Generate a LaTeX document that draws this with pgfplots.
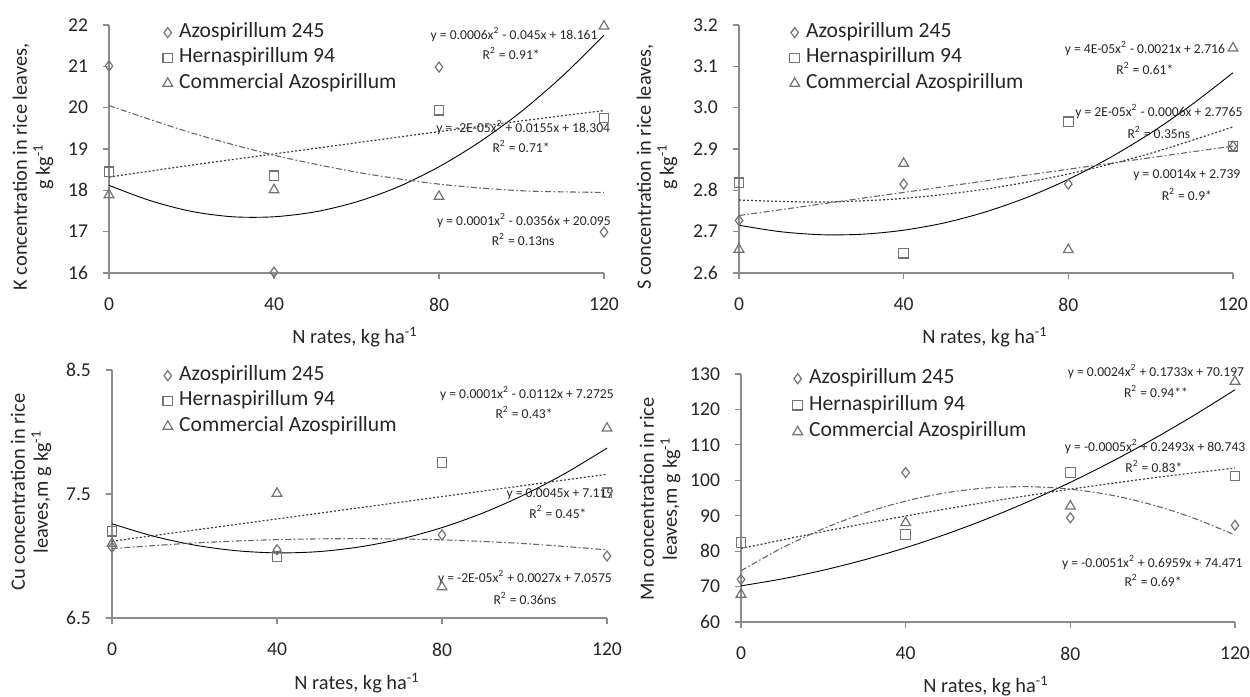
\documentclass[border=0pt]{standalone}
\usepackage{fontspec}
\setmainfont{Carlito}
\usepackage{pgfplots}
\pgfplotsset{compat=1.18}
\tikzset{eq/.style={font=\fontsize{6.8}{8}\selectfont, text=black!85, inner sep=0pt}}
\pgfplotsset{
  panel/.style={
    scale only axis, width=247.5pt, height=124pt,
    anchor=south west,
    xmin=0, xmax=120, xtick={0,40,80,120},
    axis x line=bottom, axis y line=left,
    axis line style={-, black!45, line width=0.6pt},
    tick style={black!45, line width=0.6pt},
    tick align=outside, major tick length=3pt,
    enlargelimits=false, clip=false,
    /pgf/number format/assume math mode=true,
    ticklabel style={font=\fontsize{9.8}{11}\selectfont, text=black!85},
    xticklabel style={yshift=-6pt},
    yticklabel style={xshift=-4pt},
    legend style={draw=none, fill=none, font=\fontsize{10.8}{12}\selectfont, text=black!85,
      anchor=north west, row sep=0pt, inner sep=0pt,
      nodes={inner sep=1.5pt, text height=7.3pt, text depth=2.4pt}},
    legend cell align=left,
    legend image code/.code={\draw[##1] plot coordinates {(0pt,0pt)}; \path (-2.5pt,0pt) (4pt,0pt);},
  },
  dmark/.style={only marks, mark=diamond, mark size=2.5pt, mark options={draw=black!55, fill=white, line width=0.6pt, solid}},
  smark/.style={only marks, mark=square, mark size=2.4pt, mark options={draw=black!55, fill=white, line width=0.6pt, solid}},
  tmark/.style={only marks, mark=triangle, mark size=2.8pt, mark options={draw=black!55, fill=white, line width=0.6pt, solid}},
  fitA/.style={black, line width=0.45pt, smooth, no marks, forget plot},
  fitB/.style={black!75, line width=0.6pt, dash pattern=on 1pt off 1pt, smooth, no marks, forget plot},
  fitC/.style={black!60, line width=0.55pt, dash pattern=on 3pt off 1.2pt on 0.8pt off 1.2pt, smooth, no marks, forget plot},
}
\newcommand{\lab}{\fontsize{10.2}{11.5}\selectfont}
\begin{document}
\begin{tikzpicture}
\path[use as bounding box] (0,0) rectangle (625pt,348.5pt);

% ---------------- K ----------------
\begin{axis}[panel, at={(54.5pt,212pt)}, ymin=16, ymax=22, ytick={16,17,...,22},
  legend style={at={(0.107,1.022)}}]
\addplot[fitA] coordinates {(0,18.12)(10,17.75)(20,17.49)(30,17.36)(40,17.36)(50,17.48)(60,17.72)(70,18.08)(80,18.57)(90,19.18)(100,19.91)(110,20.77)(120,21.75)};
\addplot[fitB] coordinates {(0,18.32)(20,18.61)(40,18.88)(60,19.15)(80,19.42)(100,19.68)(120,19.93)};
\addplot[fitC] coordinates {(0,20.05)(20,19.39)(40,18.85)(60,18.44)(80,18.15)(100,17.99)(120,17.95)};
\addplot[dmark] coordinates {(0,21.01)(40,16.02)(80,20.98)(120,16.99)};
\addplot[smark] coordinates {(0,18.45)(40,18.35)(80,19.94)(120,19.75)};
\addplot[tmark] coordinates {(0,17.89)(40,18.01)(80,17.85)(120,21.97)};
\legend{Azospirillum 245, Hernaspirillum 94, Commercial Azospirillum}
\node[eq] at (axis cs:98.2,21.76) {y = 0.0006x\textsuperscript{2} - 0.045x + 18.161};
\node[eq] at (axis cs:97.5,21.32) {R\textsuperscript{2} = 0.91*};
\node[eq] at (axis cs:100.4,19.51) {y = -2E-05x\textsuperscript{2} + 0.0155x + 18.304};
\node[eq] at (axis cs:99.9,19.05) {R\textsuperscript{2} = 0.71*};
\node[eq] at (axis cs:100.6,17.28) {y = 0.0001x\textsuperscript{2} - 0.0356x + 20.095};
\node[eq] at (axis cs:100.4,16.80) {R\textsuperscript{2} = 0.13ns};
\end{axis}

% ---------------- S ----------------
\begin{axis}[panel, at={(369.5pt,212pt)}, width=247pt, ymin=2.6, ymax=3.2, ytick={2.6,2.7,...,3.2},
  yticklabel style={/pgf/number format/.cd, fixed, fixed zerofill, precision=1},
  legend style={at={(0.101,1.022)}}]
\addplot[fitA] coordinates {(0,2.7155)(10,2.700)(20,2.6926)(30,2.6938)(40,2.7035)(50,2.7215)(60,2.7481)(70,2.7831)(80,2.8265)(90,2.8784)(100,2.9386)(110,3.0074)(120,3.0845)};
\addplot[fitB] coordinates {(0,2.7765)(20,2.7716)(40,2.7805)(60,2.8031)(80,2.8395)(100,2.8896)(120,2.9535)};
\addplot[fitC] coordinates {(0,2.739)(120,2.907)};
\addplot[dmark] coordinates {(0,2.727)(40,2.815)(80,2.815)(120,2.907)};
\addplot[smark] coordinates {(0,2.818)(40,2.648)(80,2.966)(120,2.907)};
\addplot[tmark] coordinates {(0,2.657)(40,2.865)(80,2.656)(120,3.144)};
\legend{Azospirillum 245, Hernaspirillum 94, Commercial Azospirillum}
\node[eq] at (axis cs:98.6,3.144) {y = 4E-05x\textsuperscript{2} - 0.0021x + 2.716};
\node[eq] at (axis cs:98.6,3.096) {R\textsuperscript{2} = 0.61*};
\node[eq] at (axis cs:102,2.990) {y = 2E-05x\textsuperscript{2} - 0.0006x + 2.7765};
\node[eq] at (axis cs:102,2.941) {R\textsuperscript{2} = 0.35ns};
\node[eq] at (axis cs:108.8,2.837) {y = 0.0014x + 2.739};
\node[eq] at (axis cs:108.8,2.789) {R\textsuperscript{2} = 0.9*};
\end{axis}

% ---------------- Cu ----------------
\begin{axis}[panel, at={(56pt,39.5pt)}, ymin=6.5, ymax=8.5, ytick={6.5,7.5,8.5},
  legend style={at={(0.101,1.03)}}]
\addplot[fitA] coordinates {(0,7.26)(10,7.16)(20,7.088)(30,7.043)(40,7.025)(50,7.035)(60,7.073)(70,7.137)(80,7.229)(90,7.348)(100,7.495)(110,7.669)(120,7.87)};
\addplot[fitB] coordinates {(0,7.119)(120,7.659)};
\addplot[fitC] coordinates {(0,7.06)(20,7.105)(40,7.132)(60,7.14)(80,7.13)(100,7.1)(120,7.05)};
\addplot[dmark] coordinates {(0,7.07)(40,7.05)(80,7.17)(120,7.0)};
\addplot[smark] coordinates {(0,7.2)(40,6.995)(80,7.755)(120,7.51)};
\addplot[tmark] coordinates {(0,7.1)(40,7.505)(80,6.75)(120,8.03)};
\legend{Azospirillum 245, Hernaspirillum 94, Commercial Azospirillum}
\node[eq] at (axis cs:100.6,8.314) {y = 0.0001x\textsuperscript{2} - 0.0112x + 7.2725};
\node[eq] at (axis cs:99.9,8.161) {R\textsuperscript{2} = 0.43*};
\node[eq] at (axis cs:108.6,7.500) {y = 0.0045x + 7.119};
\node[eq] at (axis cs:108.1,7.355) {R\textsuperscript{2} = 0.45*};
\node[eq] at (axis cs:100.1,6.823) {y = -2E-05x\textsuperscript{2} + 0.0027x + 7.0575};
\node[eq] at (axis cs:100.1,6.661) {R\textsuperscript{2} = 0.36ns};
\end{axis}

% ---------------- Mn ----------------
\begin{axis}[panel, at={(370.5pt,37.5pt)}, width=247pt, ymin=60, ymax=130, ytick={60,70,...,130},
  legend style={at={(0.103,1.034)}, row sep=0.6pt}]
\addplot[fitA] coordinates {(0,70.197)(10,72.17)(20,74.623)(30,77.556)(40,80.969)(50,84.862)(60,89.235)(70,94.088)(80,99.421)(90,105.234)(100,111.527)(110,118.3)(120,125.553)};
\addplot[fitB] coordinates {(0,80.743)(20,85.529)(40,89.915)(60,93.901)(80,97.487)(100,100.673)(120,103.459)};
\addplot[fitC] coordinates {(0,74.471)(10,80.92)(20,86.349)(30,90.758)(40,94.147)(50,96.516)(60,97.865)(70,98.194)(80,97.503)(90,95.792)(100,93.061)(110,89.31)(120,84.539)};
\addplot[dmark] coordinates {(0,72)(40,102.2)(80,89.4)(120,87.3)};
\addplot[smark] coordinates {(0,82.4)(40,84.7)(80,102.2)(120,101.2)};
\addplot[tmark] coordinates {(0,67.8)(40,88)(80,92.7)(120,127.9)};
\legend{Azospirillum 245, Hernaspirillum 94, Commercial Azospirillum}
\node[eq] at (axis cs:100.8,130.6) {y = 0.0024x\textsuperscript{2} + 0.1733x + 70.197};
\node[eq] at (axis cs:100.8,125.2) {R\textsuperscript{2} = 0.94**};
\node[eq] at (axis cs:100.6,109.4) {y = -0.0005x\textsuperscript{2} + 0.2493x + 80.743};
\node[eq] at (axis cs:100.3,104.0) {R\textsuperscript{2} = 0.83*};
\node[eq] at (axis cs:99.9,76.9) {y = -0.0051x\textsuperscript{2} + 0.6959x + 74.471};
\node[eq] at (axis cs:100.1,71.6) {R\textsuperscript{2} = 0.69*};
\end{axis}

% axis titles
\node[rotate=90, align=center, font=\lab, text=black!85] at (16.5pt,265pt) {K concentration in rice leaves,\\ g kg\textsuperscript{-1}};
\node[rotate=90, align=center, font=\lab, text=black!85] at (328.5pt,265pt) {S concentration in rice leaves,\\ g kg\textsuperscript{-1}};
\node[rotate=90, align=center, font=\lab, text=black!85] at (15.5pt,102.5pt) {Cu concentration in rice\\ leaves,m g kg\textsuperscript{-1}};
\node[rotate=90, align=center, font=\lab, text=black!85] at (330pt,99pt) {Mn concentration in rice\\ leaves,m g kg\textsuperscript{-1}};
\node[font=\lab, text=black!85] at (177.5pt,180pt) {N rates, kg ha\textsuperscript{-1}};
\node[font=\lab, text=black!85] at (492.5pt,180pt) {N rates, kg ha\textsuperscript{-1}};
\node[font=\lab, text=black!85] at (178.5pt,7pt) {N rates, kg ha\textsuperscript{-1}};
\node[font=\lab, text=black!85] at (493pt,5.5pt) {N rates, kg ha\textsuperscript{-1}};
\end{tikzpicture}
\end{document}
